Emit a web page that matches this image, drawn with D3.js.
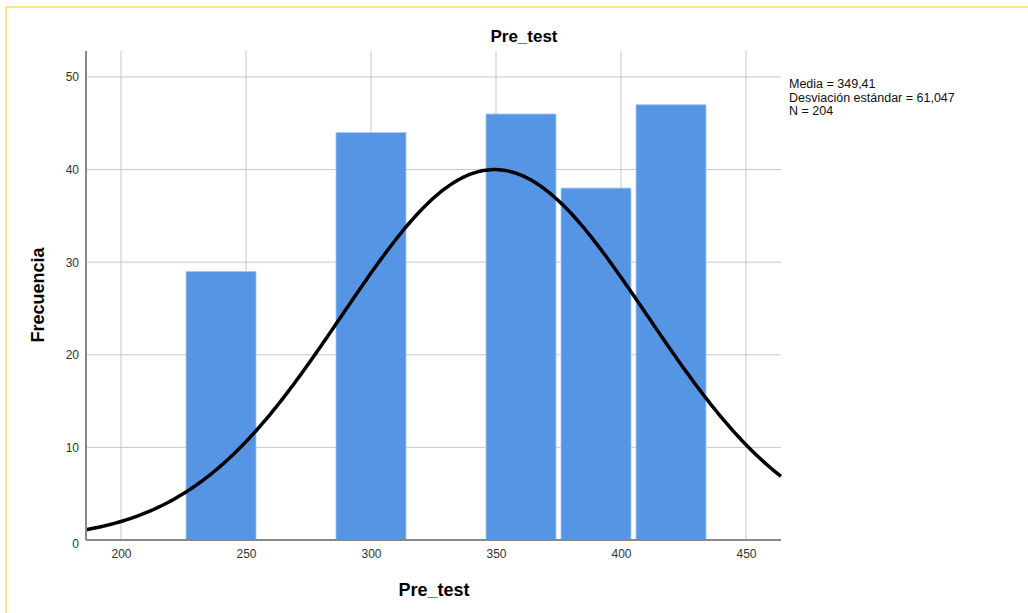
<!DOCTYPE html>
<html>
<head>
<meta charset="utf-8">
<script src="https://cdn.jsdelivr.net/npm/d3@7"></script>
<style>
  body { margin: 0; background: #fff; }
  svg { font-family: "Liberation Sans", Arial, sans-serif; }
</style>
</head>
<body>
<div class="chart-area"></div>
<script>
// histogram bins (lower, upper edge) and counts
const binStart = [225, 285, 345, 375, 405];
const binEnd   = [255, 315, 375, 405, 435];
const counts   = [29, 44, 46, 38, 47];
const xTicks = [200, 250, 300, 350, 400, 450];
const yTicks = [0, 10, 20, 30, 40, 50];
const stats = ["Media = 349,41", "Desviación estándar = 61,047", "N = 204"];
const mean = 349.41, sd = 61.047, n = 204, binWidth = 30;

const width = 1028, height = 613;
const margin = { top: 51, right: 247, bottom: 73, left: 86 };

const svg = d3.select('.chart-area').append('svg').attr('width', width).attr('height', height);

// yellow frame
svg.append('rect')
  .attr('x', 6).attr('y', 7).attr('width', 1040).attr('height', 640)
  .attr('fill', 'none').attr('stroke', '#fde58f').attr('stroke-width', 2);

var x = d3.scaleLinear().domain([186, 464]).range([margin.left, width - margin.right]);
var y = d3.scaleLinear().domain([0, 52.8]).range([height - margin.bottom, margin.top]);

// grid
svg.append('g').selectAll('line').data(xTicks).join('line')
  .attr('x1', d => x(d)).attr('x2', d => x(d))
  .attr('y1', y.range()[1]).attr('y2', y(0))
  .attr('stroke', '#c8c8c8').attr('stroke-width', 1);
svg.append('g').selectAll('line').data(yTicks).join('line')
  .attr('x1', margin.left).attr('x2', width - margin.right)
  .attr('y1', d => y(d)).attr('y2', d => y(d))
  .attr('stroke', '#c8c8c8').attr('stroke-width', 1);

// bars
svg.append('g').selectAll('rect').data(counts).join('rect')
  .attr('x', (d, i) => x(binStart[i]) + 2.5)
  .attr('width', (d, i) => x(binEnd[i]) - x(binStart[i]) - 5)
  .attr('y', d => y(d))
  .attr('height', d => y(0) - y(d))
  .attr('fill', '#5595e3')
  .attr('stroke', '#a9c9f1').attr('stroke-width', 0.8);

// normal curve from the stated mean / sd
const pts = d3.range(186, 464.01, 1).map(v => [v,
  n * binWidth * Math.exp(-0.5 * ((v - mean) / sd) ** 2) / (sd * Math.sqrt(2 * Math.PI))]);
svg.append('path').datum(pts)
  .attr('fill', 'none').attr('stroke', '#000').attr('stroke-width', 3.5)
  .attr('d', d3.line().x(d => x(d[0])).y(d => y(d[1])));

// axes
const xAxis = svg.append('g').attr('transform', `translate(0,${y(0)})`)
  .call(d3.axisBottom(x).tickValues(xTicks).tickSize(0).tickPadding(9));
const yAxis = svg.append('g').attr('transform', `translate(${margin.left},0)`)
  .call(d3.axisLeft(y).tickValues(yTicks).tickSize(0).tickPadding(7));
[xAxis, yAxis].forEach(g => {
  g.select('.domain').remove();
  g.selectAll('text').attr('fill', '#333').style('font-size', '12px')
    .style('font-family', '"Liberation Sans", Arial, sans-serif');
});
yAxis.selectAll('.tick').filter(d => d === 0).select('text').attr('dy', '0.6em');

svg.append('line').attr('x1', margin.left).attr('x2', margin.left)
  .attr('y1', y.range()[1]).attr('y2', y(0)).attr('stroke', '#888').attr('stroke-width', 2);
svg.append('line').attr('x1', margin.left).attr('x2', width - margin.right)
  .attr('y1', y(0)).attr('y2', y(0)).attr('stroke', '#888').attr('stroke-width', 2);

// titles
svg.append('text').attr('x', 524).attr('y', 42).attr('text-anchor', 'middle')
  .style('font-size', '17px').style('font-weight', 'bold').text('Pre_test');
svg.append('text').attr('x', 434).attr('y', 596).attr('text-anchor', 'middle')
  .style('font-size', '18px').style('font-weight', 'bold').text('Pre_test');
svg.append('text').attr('transform', 'translate(44,295) rotate(-90)').attr('text-anchor', 'middle')
  .style('font-size', '18px').style('font-weight', 'bold').text('Frecuencia');

// stats box
svg.append('g').selectAll('text').data(stats).join('text')
  .attr('x', 789).attr('y', (d, i) => 88 + i * 13.5)
  .style('font-size', '12.5px').attr('fill', '#111').text(d => d);
</script>
</body>
</html>
